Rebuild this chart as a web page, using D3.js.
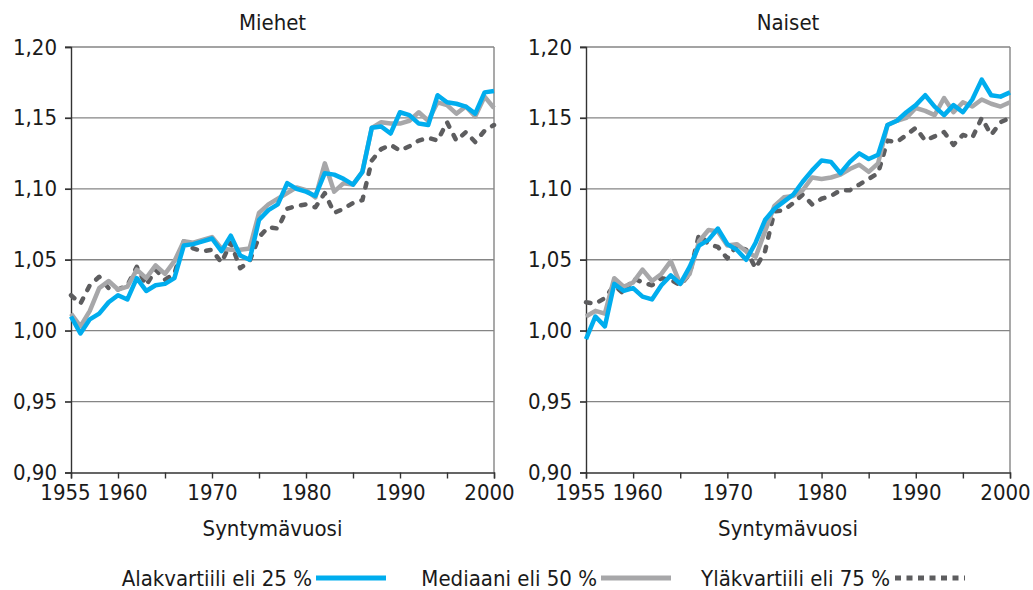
<!DOCTYPE html>
<html>
<head>
<meta charset="utf-8">
<script src="https://cdn.jsdelivr.net/npm/d3@7"></script>
<style>
  html, body { margin: 0; padding: 0; background: #ffffff; }
  svg { display: block; }
  text { font-family: "DejaVu Sans Condensed", "DejaVu Sans", sans-serif; fill: #1a1a1a; }
</style>
</head>
<body>
<svg id="chart" width="1033" height="590"></svg>
<script>
// Birth years 1955–2000
const years = d3.range(1955, 2001);

// Men: lower quartile, median, upper quartile
const miehetP25 = [1.010, 0.998, 1.008, 1.012, 1.020, 1.025, 1.022, 1.037, 1.028, 1.032,
  1.033, 1.037, 1.060, 1.061, 1.063, 1.065, 1.056, 1.067, 1.053, 1.050,
  1.078, 1.085, 1.089, 1.104, 1.100, 1.098, 1.095, 1.111, 1.110, 1.107,
  1.103, 1.112, 1.143, 1.144, 1.139, 1.154, 1.152, 1.146, 1.145, 1.166,
  1.161, 1.160, 1.158, 1.153, 1.168, 1.169];
const miehetP50 = [1.012, 1.003, 1.014, 1.030, 1.035, 1.029, 1.031, 1.043, 1.037, 1.046,
  1.040, 1.049, 1.063, 1.062, 1.064, 1.066, 1.058, 1.057, 1.057, 1.058,
  1.083, 1.089, 1.093, 1.097, 1.101, 1.099, 1.094, 1.118, 1.098, 1.104,
  1.103, 1.112, 1.143, 1.147, 1.146, 1.146, 1.148, 1.154, 1.148, 1.161,
  1.159, 1.153, 1.158, 1.151, 1.165, 1.157];
const miehetP75 = [1.025, 1.019, 1.032, 1.038, 1.030, 1.029, 1.032, 1.045, 1.032, 1.043,
  1.036, 1.040, 1.063, 1.058, 1.056, 1.057, 1.048, 1.062, 1.044, 1.049,
  1.066, 1.073, 1.072, 1.086, 1.088, 1.089, 1.087, 1.097, 1.083, 1.086,
  1.090, 1.092, 1.120, 1.128, 1.131, 1.127, 1.130, 1.134, 1.136, 1.134,
  1.147, 1.134, 1.140, 1.133, 1.141, 1.145];

// Women: lower quartile, median, upper quartile
const naisetP25 = [0.994, 1.010, 1.003, 1.033, 1.028, 1.030, 1.024, 1.022, 1.032, 1.039,
  1.033, 1.045, 1.060, 1.064, 1.072, 1.061, 1.057, 1.050, 1.062, 1.078,
  1.086, 1.091, 1.096, 1.105, 1.113, 1.120, 1.119, 1.111, 1.119, 1.125,
  1.121, 1.124, 1.145, 1.148, 1.154, 1.159, 1.166, 1.158, 1.152, 1.159,
  1.154, 1.163, 1.177, 1.166, 1.165, 1.168];
const naisetP50 = [1.010, 1.014, 1.012, 1.037, 1.031, 1.034, 1.043, 1.035, 1.040, 1.049,
  1.033, 1.040, 1.063, 1.071, 1.070, 1.060, 1.061, 1.056, 1.052, 1.070,
  1.088, 1.094, 1.095, 1.099, 1.108, 1.107, 1.108, 1.110, 1.114, 1.117,
  1.112, 1.118, 1.145, 1.148, 1.150, 1.157, 1.155, 1.152, 1.164, 1.154,
  1.161, 1.158, 1.163, 1.160, 1.158, 1.161];
const naisetP75 = [1.020, 1.019, 1.023, 1.032, 1.026, 1.037, 1.034, 1.032, 1.037, 1.036,
  1.032, 1.040, 1.068, 1.061, 1.059, 1.051, 1.060, 1.057, 1.044, 1.056,
  1.084, 1.085, 1.090, 1.096, 1.089, 1.093, 1.095, 1.099, 1.099, 1.103,
  1.107, 1.111, 1.134, 1.133, 1.138, 1.143, 1.134, 1.137, 1.140, 1.131,
  1.138, 1.136, 1.150, 1.138, 1.147, 1.150];

const panelTitles = ["Miehet", "Naiset"];
const xTickYears = d3.range(1955, 2001, 5);
const xLabelYears = [1955, 1960, 1970, 1980, 1990, 2000];
const yTicks = [0.90, 0.95, 1.00, 1.05, 1.10, 1.15, 1.20];
const seriesNames = ["Alakvartiili eli 25 %", "Mediaani eli 50 %", "Yläkvartiili eli 75 %"];
const axisTitle = "Syntymävuosi";

const seriesStyle = [
  { color: "#00adee", dash: null, cap: "butt" },
  { color: "#a7a7a9", dash: null, cap: "butt" },
  { color: "#5d5d5f", dash: "4.5,9.5", cap: "round" }
];

const svg = d3.select("#chart");
const fmt = v => d3.format(".2f")(v).replace(".", ",");

const panels = [
  { title: panelTitles[0], left: 71, right: 494, series: [miehetP25, miehetP50, miehetP75] },
  { title: panelTitles[1], left: 586, right: 1010, series: [naisetP25, naisetP50, naisetP75] }
];
const plotTop = 47, plotBottom = 472.5;
const fontStack = "'DejaVu Sans Condensed', 'DejaVu Sans', sans-serif";
const fontSize = "22px";
// crowded year labels are shifted slightly off their ticks
const labelNudge = { 1955: -6, 1960: 4, 2000: -5 };

panels.forEach(p => {
  const x = d3.scaleLinear().domain([1955, 2000]).range([p.left, p.right]);
  const y = d3.scaleLinear().domain([0.90, 1.20]).range([plotBottom, plotTop]);
  const g = svg.append("g");

  // horizontal gridlines
  g.append("g").selectAll("line")
    .data(yTicks.filter(v => v > 0.90))
    .join("line")
    .attr("x1", p.left - 6).attr("x2", p.right)
    .attr("y1", d => y(d)).attr("y2", d => y(d))
    .attr("stroke", "#858585").attr("stroke-width", 1.4);

  // right border of the plot area
  g.append("line")
    .attr("x1", p.right).attr("x2", p.right)
    .attr("y1", plotTop).attr("y2", plotBottom)
    .attr("stroke", "#858585").attr("stroke-width", 1.4);

  // y axis
  const yAxis = d3.axisLeft(y).tickValues(yTicks).tickFormat(fmt).tickSizeOuter(0).tickSize(6).tickPadding(8);
  const ya = g.append("g").attr("transform", `translate(${p.left},0)`).call(yAxis);
  ya.select(".domain").attr("stroke", "#333").attr("stroke-width", 1.4);
  ya.selectAll(".tick line").attr("stroke", "#333").attr("stroke-width", 1.4);
  ya.selectAll(".tick text").style("font-size", fontSize).attr("fill", "#1a1a1a")
    .style("font-family", fontStack);

  // x axis
  const xAxis = d3.axisBottom(x).tickValues(xTickYears)
    .tickFormat(d => xLabelYears.includes(d) ? String(d) : "")
    .tickSizeOuter(0).tickSize(6).tickPadding(6);
  const xa = g.append("g").attr("transform", `translate(0,${plotBottom})`).call(xAxis);
  xa.select(".domain").attr("stroke", "#333").attr("stroke-width", 1.4);
  xa.selectAll(".tick line").attr("stroke", "#333").attr("stroke-width", 1.4);
  xa.selectAll(".tick text").style("font-size", fontSize).attr("fill", "#1a1a1a")
    .style("font-family", fontStack)
    .attr("x", d => labelNudge[d] || 0);

  // titles
  const cx = (p.left + p.right) / 2 - 10;
  g.append("text").attr("x", cx).attr("y", 30).attr("text-anchor", "middle")
    .style("font-size", fontSize).text(p.title);
  g.append("text").attr("x", cx).attr("y", 536).attr("text-anchor", "middle")
    .style("font-size", fontSize).text(axisTitle);

  // series lines (upper quartile drawn first so solid lines sit above)
  const line = d3.line().x((d, i) => x(years[i])).y(d => y(d));
  [2, 1, 0].forEach(si => {
    const s = seriesStyle[si];
    g.append("path")
      .datum(p.series[si])
      .attr("d", line)
      .attr("fill", "none")
      .attr("stroke", s.color)
      .attr("stroke-width", 4.5)
      .attr("stroke-linejoin", "round")
      .attr("stroke-linecap", s.cap)
      .attr("stroke-dasharray", s.dash);
  });
});

// legend
const legend = svg.append("g");
const legendItems = [
  { textEnd: 312, lineX: 316 },
  { textEnd: 597, lineX: 601 },
  { textEnd: 890, lineX: 895 }
];
legendItems.forEach((it, i) => {
  legend.append("text").attr("x", it.textEnd).attr("y", 586).attr("text-anchor", "end")
    .style("font-size", fontSize).text(seriesNames[i]);
  legend.append("line")
    .attr("x1", it.lineX).attr("x2", it.lineX + 70)
    .attr("y1", 578).attr("y2", 578)
    .attr("stroke", seriesStyle[i].color)
    .attr("stroke-width", 5)
    .attr("stroke-dasharray", i === 2 ? "6,5.5" : null);
});
</script>
</body>
</html>
